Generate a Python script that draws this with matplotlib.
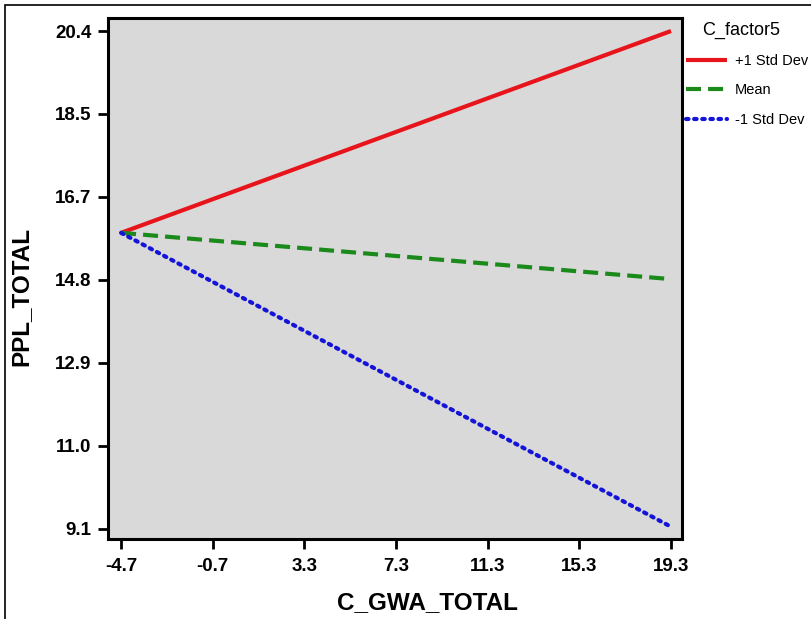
import matplotlib
matplotlib.use("Agg")
import matplotlib.pyplot as plt
from matplotlib.patches import Rectangle
import numpy as np

plt.rcParams['font.family'] = ['Liberation Sans', 'DejaVu Sans']

# Simple slopes of PPL_TOTAL on C_GWA_TOTAL at levels of C_factor5
x_vals = [-4.7, 19.3]
series_labels = ["+1 Std Dev", "Mean", "-1 Std Dev"]
plus_sd = [15.82, 20.4]
mean_vals = [15.82, 14.77]
minus_sd = [15.82, 9.15]

x_tick_labels = ["-4.7", "-0.7", "3.3", "7.3", "11.3", "15.3", "19.3"]
y_tick_labels = ["9.1", "11.0", "12.9", "14.8", "16.7", "18.5", "20.4"]

fig = plt.figure(figsize=(8.12, 6.19), dpi=100)
ax = fig.add_axes([108/812, 1 - 539/619, (682-108)/812, (539-18)/619])
ax.set_facecolor('#d9d9d9')

ax.plot(x_vals, plus_sd, color='#e8141c', lw=3.0, solid_capstyle='butt', label=series_labels[0])
ax.plot(x_vals, mean_vals, color='#1a8a1a', lw=3.0, linestyle=(0, (3.6, 1.7)), label=series_labels[1])
ax.plot(x_vals, minus_sd, color='#1414d8', lw=3.0, linestyle=(0, (0.6, 1.35)),
        dash_capstyle='round', label=series_labels[2])

ax.set_xlim(-5.27, 19.78)
ax.set_ylim(8.873, 20.695)

xt = np.array([float(t) for t in x_tick_labels])
ax.set_xticks(xt)
ax.set_xticklabels(x_tick_labels)
yt = np.linspace(float(y_tick_labels[0]), float(y_tick_labels[-1]), len(y_tick_labels))
ax.set_yticks(yt)
ax.set_yticklabels(y_tick_labels)

for s in ax.spines.values():
    s.set_linewidth(2.2)
    s.set_color('black')
ax.tick_params(axis='both', direction='out', length=7, width=2, labelsize=13.5, pad=5)
ax.tick_params(axis='x', pad=7)
for lbl in ax.get_xticklabels() + ax.get_yticklabels():
    lbl.set_fontweight('bold')

ax.set_xlabel("C_GWA_TOTAL", fontsize=17.5, fontweight='bold', labelpad=11)
ax.set_ylabel("PPL_TOTAL", fontsize=17.5, fontweight='bold', labelpad=16)
ax.xaxis.label.set_x(0.557)
ax.yaxis.label.set_y(0.465)

leg = ax.legend(loc='upper left', bbox_to_anchor=(0.992, 1.01), frameon=False,
                title="C_factor5", title_fontsize=13, fontsize=10.5,
                handlelength=2.8, handletextpad=0.55, labelspacing=1.05, borderaxespad=0.2)
leg._legend_box.align = "left"
leg._legend_title_box._text.set_x(16)

# thin frame around the figure
fig.patches.append(Rectangle((5/812, -0.1), 1.2, 1 - 5/619 + 0.1, transform=fig.transFigure,
                             fill=False, edgecolor='black', lw=1.2))

fig.savefig("out.png", dpi=100)
